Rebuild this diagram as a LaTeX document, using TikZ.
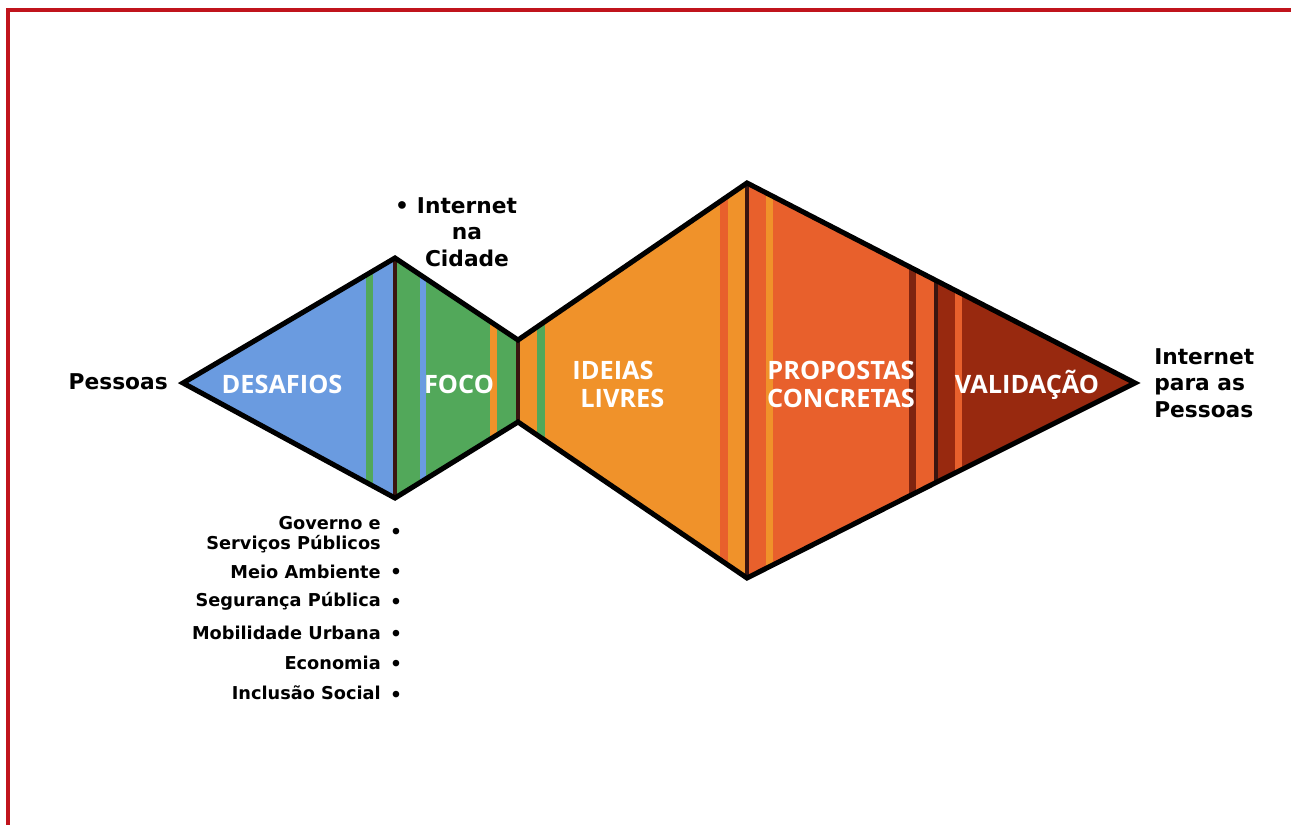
\documentclass[tikz,border=0pt]{standalone}
\usepackage{fontspec}
\setmainfont{DejaVu Sans}
\newfontfamily\wfont{Open Sans}
\definecolor{cblue}{HTML}{6A9BE0}
\definecolor{cgreen}{HTML}{52A85A}
\definecolor{corange}{HTML}{F0922A}
\definecolor{cred}{HTML}{E8602C}
\definecolor{cdark}{HTML}{98290F}
\definecolor{cdarker}{HTML}{7E2410}
\definecolor{cdiv}{HTML}{3A1510}
\definecolor{cborder}{HTML}{C0141C}
\tikzset{
  seclabel/.style={text=white, font=\wfont\bfseries\fontsize{19}{21}\selectfont, align=center, inner sep=0pt},
  blacklabel/.style={text=black, font=\bfseries\fontsize{16.3}{20}\selectfont, inner sep=0pt},
  listlabel/.style={text=black, font=\bfseries\fontsize{13.3}{15}\selectfont, inner sep=0pt, anchor=east, align=right},
  bulletdot/.style={text=black, font=\bfseries\fontsize{14}{15}\selectfont, inner sep=0pt},
  outline/.style={draw=black, line width=3.8pt, line join=miter},
  divider/.style={draw=cdiv, line width=3.4pt},
  frameline/.style={draw=cborder, line width=2.3pt}
}
\begin{document}
\begin{tikzpicture}[x=0.75pt,y=-0.75pt]
\useasboundingbox (0,0) rectangle (1291,824);
\clip (0,0) rectangle (1291,824);
% red frame
\draw[frameline] (8,840) -- (8,10) -- (1310,10);
% shape corners
\coordinate (L) at (183,383);
\coordinate (A) at (395,258);
\coordinate (B) at (395,498);
\coordinate (W1) at (518,340);
\coordinate (W2) at (518,422);
\coordinate (C) at (747,183);
\coordinate (D) at (747,578);
\coordinate (E) at (937,281);
\coordinate (F) at (937,482);
\coordinate (R) at (1135,383);
\begin{scope}
  \clip (L) -- (A) -- (W1) -- (C) -- (E) -- (R) -- (F) -- (D) -- (W2) -- (B) -- cycle;
  % section fills
  \fill[cblue]   (150,150) rectangle (395,620);
  \fill[cgreen]  (395,150) rectangle (518,620);
  \fill[corange] (518,150) rectangle (747,620);
  \fill[cred]    (747,150) rectangle (937,620);
  \fill[cdark]   (937,150) rectangle (1150,620);
  % stripes
  \fill[cgreen]  (366,150) rectangle (373,620);
  \fill[cblue]   (420,150) rectangle (426,620);
  \fill[corange] (490,150) rectangle (497,620);
  \fill[cgreen]  (537,150) rectangle (545,620);
  \fill[cred]    (720,150) rectangle (728,620);
  \fill[corange] (766,150) rectangle (773,620);
  \fill[cdarker] (909,150) rectangle (916,620);
  \fill[cred]    (955,150) rectangle (962,620);
  % dividers
  \draw[divider] (A) -- (B);
  \draw[divider] (W1) -- (W2);
  \draw[divider] (C) -- (D);
  \draw[divider] (936,150) -- (936,620);
\end{scope}
\draw[outline] (L) -- (A) -- (W1) -- (C) -- (E) -- (R) -- (F) -- (D) -- (W2) -- (B) -- cycle;
% section labels
\node[seclabel] (desafios) at (282,384) {DESAFIOS};
\node[seclabel] (foco) at (459,384) {FOCO};
\node[seclabel] (ideias) at (613,384) {IDEIAS\\\hspace*{14pt}LIVRES};
\node[seclabel] (propostas) at (841,384) {PROPOSTAS\\CONCRETAS};
\node[seclabel] (validacao) at (1027,385) {VALIDAÇÃO};
% outer labels
\node[blacklabel, anchor=east] (pessoas) at (168,382) {Pessoas};
\node[blacklabel, align=center] (cidade) at (467,232) {\llap{\textbullet\hspace{6pt}}Internet\\na\\Cidade};
\node[blacklabel, align=left, anchor=west] (final) at (1154,383) {Internet\\para as\\Pessoas};
% list
\node[listlabel] (l1) at (381,535) {Governo e\\Serviços Públicos};
\node[listlabel] (l2) at (381,572) {Meio Ambiente};
\node[listlabel] (l3) at (381,601) {Segurança Pública};
\node[listlabel] (l4) at (381,633) {Mobilidade Urbana};
\node[listlabel] (l5) at (381,663) {Economia};
\node[listlabel] (l6) at (381,693) {Inclusão Social};
\node[bulletdot] (b1) at (396,533) {\textbullet};
\node[bulletdot] (b2) at (396,573) {\textbullet};
\node[bulletdot] (b3) at (396,603) {\textbullet};
\node[bulletdot] (b4) at (396,635) {\textbullet};
\node[bulletdot] (b5) at (396,665) {\textbullet};
\node[bulletdot] (b6) at (396,696) {\textbullet};
\end{tikzpicture}
\end{document}
